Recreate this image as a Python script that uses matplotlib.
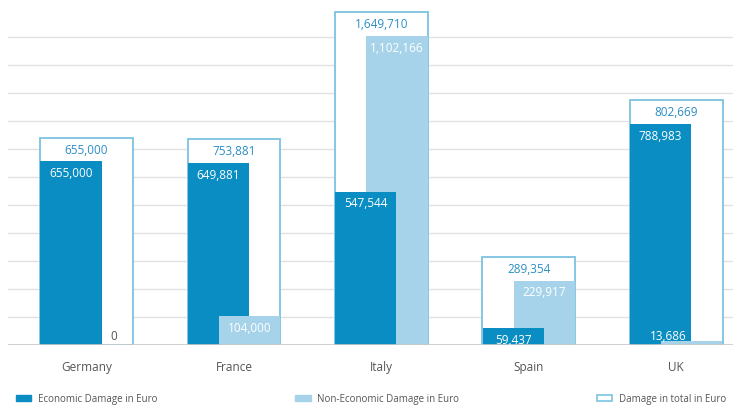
import matplotlib
matplotlib.use("Agg")
import matplotlib.pyplot as plt
from matplotlib.patches import Patch
import numpy as np

# Daten (Euro)
countries = ["Germany", "France", "Italy", "Spain", "UK"]
economic = [655000, 649881, 547544, 59437, 788983]
non_economic = [0, 104000, 1102166, 229917, 13686]
total = [655000, 753881, 1649710, 289354, 802669]

dark = "#0a8dc3"
light = "#a6d3ea"
edge = "#7cc3e2"
label_blue = "#2a8ec6"
grey_txt = "#555555"

plt.rcParams["font.family"] = ["Open Sans", "DejaVu Sans"]

fig = plt.figure(figsize=(7.33, 4.06), dpi=100)
ax = fig.add_axes([8 / 733, 60 / 406, 725 / 733, 346 / 406])

x = np.arange(len(countries))
w = 0.415
off = 0.106
box_w = 0.63
pad = 85000  # Platz für die Summen-Beschriftung im Rahmen

# Rahmen für die Gesamtsumme (Höhe = größter Balken + Platz für Label)
box_h = [max(e, n) + pad for e, n in zip(economic, non_economic)]
ax.bar(x, box_h, width=box_w, facecolor="white", edgecolor=edge,
       linewidth=1.3, zorder=2)

# der kürzere Balken liegt jeweils vorne
for i in range(len(countries)):
    e, n = economic[i], non_economic[i]
    ax.bar(x[i] + off, n, width=w, color=light, zorder=4 if n < e else 3)
    ax.bar(x[i] - off, e, width=w, color=dark, zorder=4 if e <= n else 3)

# Gitterlinien
for yv in range(100000, 1200000, 100000):
    ax.axhline(yv, color="#e1e1e1", linewidth=1.0, zorder=1)
ax.axhline(0, color="#c8c8c8", linewidth=1.2, zorder=5)

small = 30000
fs = 8.5


def fmt(v):
    return f"{v:,}"


for i in range(len(countries)):
    # Summe oben im Rahmen
    ax.annotate(fmt(total[i]), (x[i], box_h[i]), xytext=(0, -3.5),
                textcoords="offset points", ha="center", va="top",
                color=label_blue, fontsize=fs, zorder=6)
    # wirtschaftlicher Schaden
    ax.annotate(fmt(economic[i]), (x[i] - off, economic[i]), xytext=(0, -3.5),
                textcoords="offset points", ha="center", va="top",
                color="white", fontsize=fs, zorder=6)

# nicht-wirtschaftlicher Schaden (kleine Werte unten, etwas verschoben)
nudge = [8, 0, 0, 0, -17]
small_col = [grey_txt, "white", "white", "white", "white"]
for i in range(len(countries)):
    v = non_economic[i]
    if v < small:
        ax.annotate(fmt(v), (x[i] + off, 0), xytext=(nudge[i], 6.5),
                    textcoords="offset points", ha="center", va="center",
                    color=small_col[i], fontsize=fs, zorder=6)
    else:
        ax.annotate(fmt(v), (x[i] + off, v), xytext=(0, -3.5),
                    textcoords="offset points", ha="center", va="top",
                    color="white", fontsize=fs, zorder=6)

ax.set_xlim(-0.533, 4.386)
ax.set_ylim(0, 1235000)
ax.set_yticks([])
ax.set_xticks(x)
ax.set_xticklabels(countries, fontsize=8.5, color=grey_txt)
ax.tick_params(axis="x", length=0, pad=11)
for s in ax.spines.values():
    s.set_visible(False)

handles = [Patch(facecolor=dark, edgecolor=dark),
           Patch(facecolor=light, edgecolor=light),
           Patch(facecolor="white", edgecolor=edge, linewidth=1.2)]
labels = ["Economic Damage in Euro", "Non-Economic Damage in Euro",
          "Damage in total in Euro"]
fig.legend(handles, labels, loc="lower left", ncol=3, mode="expand",
           bbox_to_anchor=(12 / 733, -0.008, 718 / 733, 0.05),
           frameon=False, fontsize=7, labelcolor=grey_txt,
           handlelength=1.6, handleheight=0.6, handletextpad=0.7,
           borderaxespad=0.0)

plt.savefig("out.png", dpi=100)
plt.close()
